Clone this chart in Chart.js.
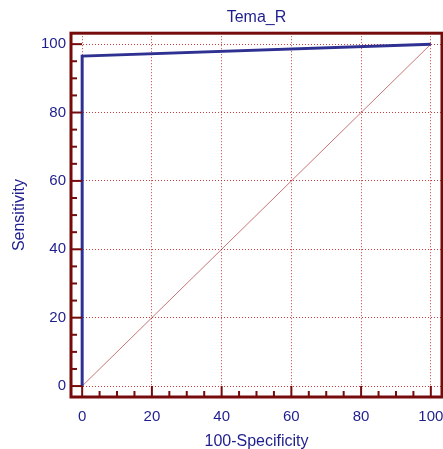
<!DOCTYPE html>
<html>
<head>
<meta charset="utf-8">
<script src="https://cdn.jsdelivr.net/npm/chart.js@4.4.0/dist/chart.umd.min.js"></script>
<style>
  html, body { margin: 0; padding: 0; background: #fff; }
  #wrap { width: 443px; height: 449px; }
</style>
</head>
<body>
<div id="wrap"><canvas id="chartRoc"></canvas></div>
<script>
// Dados da curva ROC
var rocX = [0, 0, 100];
var rocY = [0, 96.5, 100];

// Linha de referência (diagonal)
var refX = [0, 100];
var refY = [0, 100];

// Posições das marcas nos eixos e rótulos
var tickValues = [0, 5, 10, 15, 20, 25, 30, 35, 40, 45, 50, 55, 60, 65, 70, 75, 80, 85, 90, 95, 100];
var tickLabels = [0, 20, 40, 60, 80, 100];

var textColor = '#1e1e8e';
var frameColor = '#760b0b';
var gridColor = 'rgba(200, 40, 40, 0.9)';

function pontos(xs, ys) {
    return xs.map(function (x, i) { return { x: x, y: ys[i] }; });
}

// Moldura e marcas internas dos eixos
var molduraPlugin = {
    id: 'moldura',
    afterDraw: function (chart) {
        var ctx = chart.ctx;
        var a = chart.chartArea;
        var sx = chart.scales.x;
        var sy = chart.scales.y;
        ctx.save();
        ctx.strokeStyle = frameColor;
        ctx.lineWidth = 3;
        ctx.strokeRect(a.left, a.top, a.right - a.left, a.bottom - a.top);
        ctx.lineWidth = 2;
        tickValues.forEach(function (v) {
            var len = tickLabels.indexOf(v) >= 0 ? 11 : 6;
            var py = sy.getPixelForValue(v);
            ctx.beginPath();
            ctx.moveTo(a.left, py);
            ctx.lineTo(a.left + len, py);
            ctx.stroke();
            var px = sx.getPixelForValue(v);
            ctx.beginPath();
            ctx.moveTo(px, a.bottom);
            ctx.lineTo(px, a.bottom - len);
            ctx.stroke();
        });
        ctx.restore();
    }
};

function eixo(titulo, largura, altura, padTitulo, padTicks) {
    return {
        type: 'linear',
        min: -3.2,
        max: 103.2,
        afterBuildTicks: function (scale) {
            scale.ticks = tickValues.map(function (v) { return { value: v }; });
        },
        afterFit: function (scale) {
            if (largura) scale.width = largura;
            if (altura) {
                scale.height = altura;
                scale.paddingLeft = 0;
                scale.paddingRight = 0;
            }
        },
        border: { display: false, dash: [1, 2] },
        grid: {
            drawTicks: false,
            lineWidth: 1,
            color: function (c) {
                return tickLabels.indexOf(c.tick.value) >= 0 ? gridColor : 'rgba(0,0,0,0)';
            }
        },
        ticks: {
            autoSkip: false,
            maxRotation: 0,
            padding: padTicks,
            color: textColor,
            font: { family: 'Liberation Sans, Arial, sans-serif', size: 15 },
            callback: function (v) {
                return tickLabels.indexOf(v) >= 0 ? String(v) : '';
            }
        },
        title: {
            display: true,
            text: titulo,
            color: textColor,
            font: { family: 'Liberation Sans, Arial, sans-serif', size: 16 },
            padding: padTitulo
        }
    };
}

var ctxRoc = document.getElementById('chartRoc').getContext('2d');
var chartRoc = new Chart(ctxRoc, {
    type: 'scatter',
    data: {
        datasets: [{
            label: 'Tema_R',
            data: pontos(rocX, rocY),
            showLine: true,
            borderColor: '#2e3192',
            borderWidth: 3,
            pointRadius: 0,
            tension: 0
        }, {
            label: 'Referência',
            data: pontos(refX, refY),
            showLine: true,
            borderColor: 'rgba(160, 25, 25, 0.75)',
            borderWidth: 0.8,
            pointRadius: 0
        }]
    },
    options: {
        responsive: true,
        maintainAspectRatio: false,
        animation: false,
        layout: { padding: { left: 0, right: 1, top: 0, bottom: 0 } },
        plugins: {
            legend: { display: false },
            tooltip: { enabled: false },
            title: {
                display: true,
                text: 'Tema_R',
                fullSize: false,
                color: textColor,
                font: { family: 'Liberation Sans, Arial, sans-serif', size: 16, weight: 'normal' },
                padding: { top: 8, bottom: 6 }
            }
        },
        scales: {
            x: eixo('100-Specificity', null, 52, { top: 0, bottom: -2 }, 11),
            y: eixo('Sensitivity', 71, null, { top: 10, bottom: 0 }, 5)
        }
    },
    plugins: [molduraPlugin]
});
</script>
</body>
</html>
